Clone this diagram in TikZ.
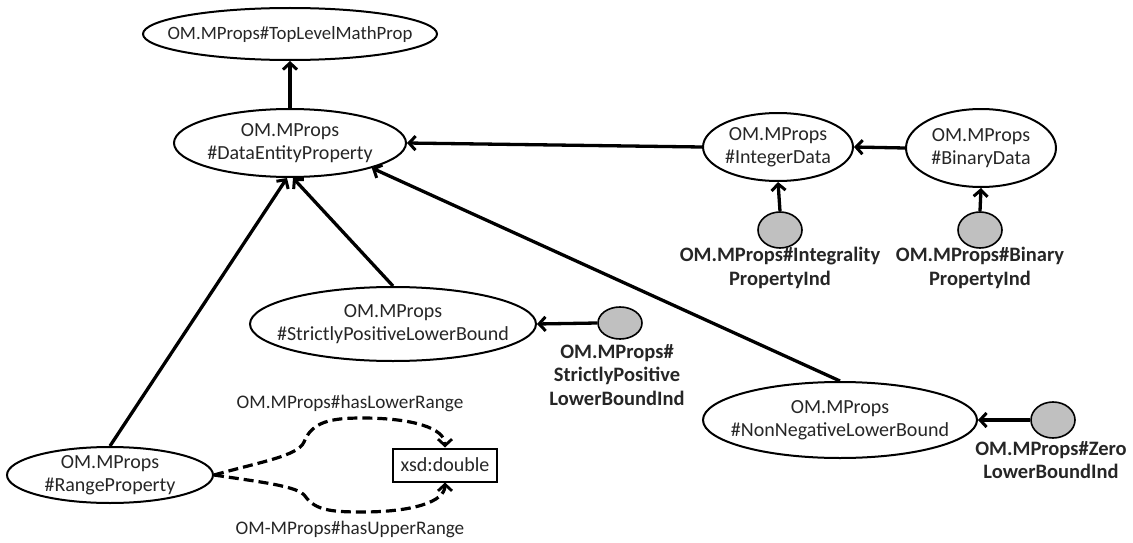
\documentclass[tikz,border=0pt]{standalone}
\usepackage{fontspec}
\setmainfont{Carlito}
\usetikzlibrary{shapes.geometric,arrows.meta}
\definecolor{indgray}{RGB}{192,192,192}
\begin{document}
\begin{tikzpicture}[x=1pt,y=-1pt,
  every node/.style={font=\fontsize{20}{22.5}\selectfont, text=black!85},
  cls/.style={ellipse, draw, line width=2pt, inner sep=0pt},
  txt/.style={align=center, inner sep=0pt},
  ind/.style={ellipse, draw, line width=1.6pt, fill=indgray, inner sep=0pt,
              minimum width=44pt, minimum height=36pt},
  indlabel/.style={font=\fontsize{20.5}{23.5}\selectfont\bfseries, align=center},
  rellabel/.style={font=\fontsize{19.2}{22}\selectfont},
  isa/.style={line width=3.3pt, -{Straight Barb[length=6.5pt,width=14pt,line width=3pt]}},
  rel/.style={line width=3.2pt, dash pattern=on 10pt off 5pt,
              -{Straight Barb[length=6.5pt,width=14pt,line width=2.8pt]}}]
\useasboundingbox (0,0) rectangle (1133,543);

% class nodes (fixed-size outlines, text set on top)
\node[cls, minimum width=294pt, minimum height=52pt] (top) at (290,34) {};
\node[txt, font=\fontsize{18.8}{22}\selectfont] (top-t) at (top) {OM.MProps\#TopLevelMathProp};
\node[cls, minimum width=232pt, minimum height=68pt] (de) at (290,143) {};
\node[txt] (de-t) at (de) {OM.MProps\\\#DataEntityProperty};
\node[cls, minimum width=150pt, minimum height=68pt] (int) at (778,147) {};
\node[txt] (int-t) at (int) {OM.MProps\\\#IntegerData};
\node[cls, minimum width=150pt, minimum height=78pt] (bin) at (981,148) {};
\node[txt] (bin-t) at (bin) {OM.MProps\\\#BinaryData};
\node[cls, minimum width=286pt, minimum height=74pt] (spl) at (393,324) {};
\node[txt] (spl-t) at (spl) {OM.MProps\\\#StrictlyPositiveLowerBound};
\node[cls, minimum width=274pt, minimum height=76pt] (nnl) at (840,420) {};
\node[txt] (nnl-t) at (nnl) {OM.MProps\\\#NonNegativeLowerBound};
\node[cls, minimum width=206pt, minimum height=56pt] (rng) at (110,475) {};
\node[txt] (rng-t) at (rng) {OM.MProps\\\#RangeProperty};
\node[draw, line width=2pt, minimum width=104pt, minimum height=33pt, inner sep=0pt] (xsd) at (445,465) {xsd:double};

% individuals
\node[ind] (iind) at (780,230) {};
\node[ind] (bind) at (980,230) {};
\node[ind, minimum height=32pt] (spind) at (620,323) {};
\node[ind] (zind) at (1053,420) {};

\node[indlabel] (iindl) at (780,268) {OM.MProps\#Integrality\\PropertyInd};
\node[indlabel] (bindl) at (980,268) {OM.MProps\#Binary\\PropertyInd};
\node[indlabel] (spindl) at (617,375) {OM.MProps\#\\StrictlyPositive\\LowerBoundInd};
\node[indlabel] (zindl) at (1051,460) {OM.MProps\#Zero\\LowerBoundInd};

% relation labels
\node[rellabel] (lowl) at (350,403) {OM.MProps\#hasLowerRange};
\node[rellabel] (upl) at (350,529) {OM-MProps\#hasUpperRange};

% subclass / type links
\draw[isa] (de.north) -- (top.south);
\draw[isa] (int.west) -- (de.east);
\draw[isa] (bin.west) -- (int.east);
\draw[isa] (iind.north) -- (int.south);
\draw[isa] (bind.north) -- (bin.south);
\draw[isa] (spind.west) -- (spl.east);
\draw[isa] (zind.west) -- (nnl.east);
\draw[isa] (spl.north) -- ([xshift=3pt]de.south);
\draw[isa] (rng.north) -- ([xshift=-3pt]de.south);
\draw[isa] (nnl.north) -- (de.-17);

% data properties
\draw[rel] (rng.east) .. controls (260,462) and (298,456) .. (304,442)
  .. controls (312,422) and (330,418) .. (362,418)
  .. controls (412,418) and (445,428) .. (xsd.north);
\draw[rel] (rng.east) .. controls (260,482) and (298,486) .. (305,496)
  .. controls (315,510) and (330,512) .. (362,512)
  .. controls (412,512) and (445,502) .. (xsd.south);
\end{tikzpicture}
\end{document}
